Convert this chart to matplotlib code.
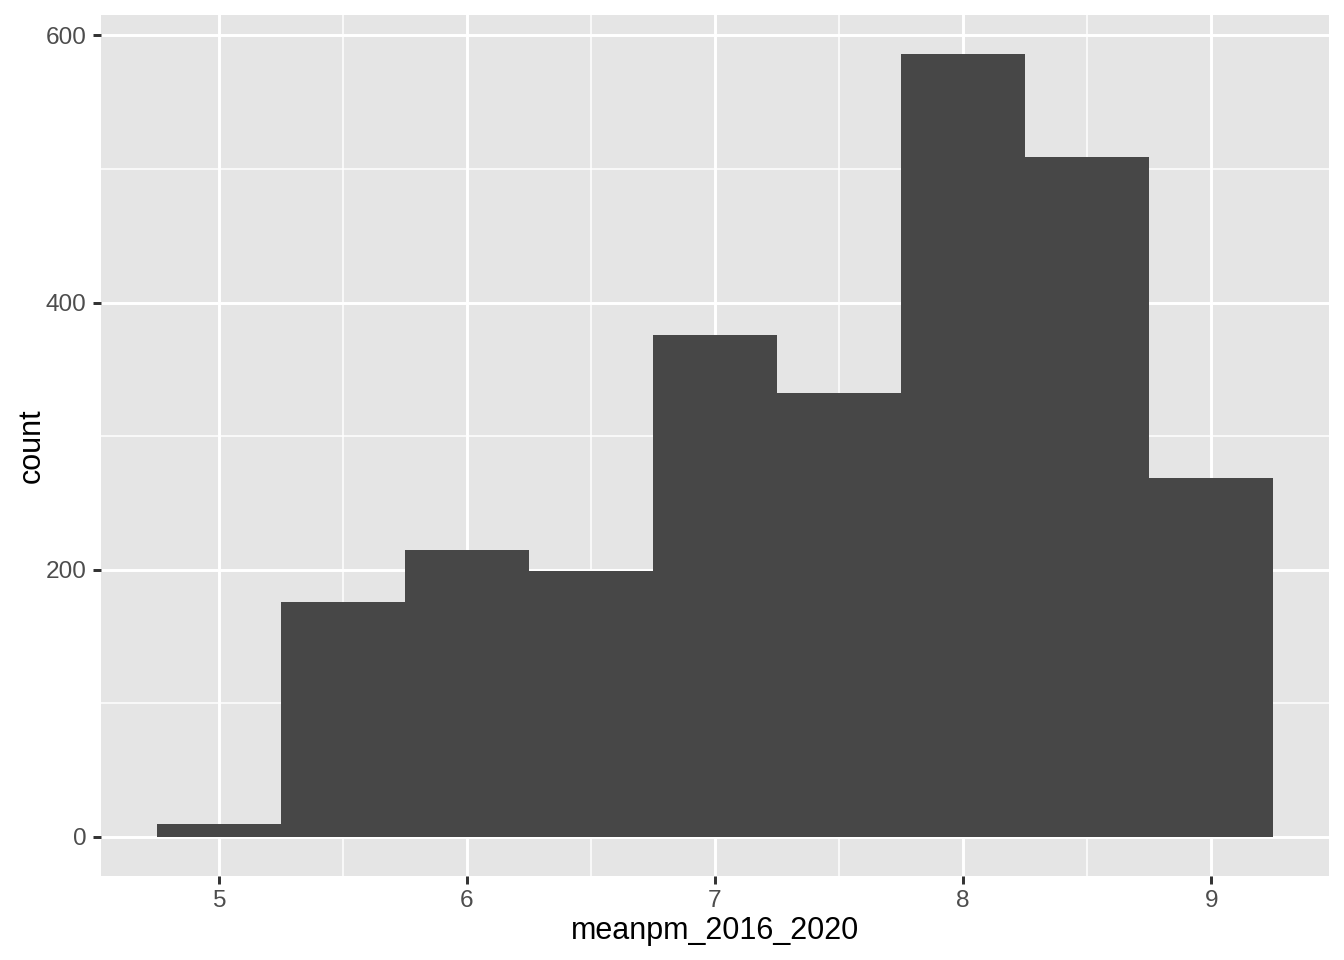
import numpy as np
import matplotlib
matplotlib.use("Agg")
import matplotlib.pyplot as plt

# histogram bins (width 0.5)
bin_left = [4.75, 5.25, 5.75, 6.25, 6.75, 7.25, 7.75, 8.25, 8.75]
counts = [10, 176, 215, 199, 376, 332, 586, 509, 269]
bin_width = 0.5

x_ticks = [5, 6, 7, 8, 9]
y_ticks = [0, 200, 400, 600]

plt.rcParams['font.family'] = ['Liberation Sans', 'DejaVu Sans']

fig = plt.figure(figsize=(6.72, 4.8), dpi=200)
ax = fig.add_axes([101/1344, 1-876/960, (1329-101)/1344, (876-15)/960])
ax.set_facecolor('#E5E5E5')

# grid lines like ggplot theme_gray
for v in [5.5, 6.5, 7.5, 8.5]:
    ax.axvline(v, color='white', lw=0.55, zorder=1)
for v in [100, 300, 500]:
    ax.axhline(v, color='white', lw=0.55, zorder=1)
for v in x_ticks:
    ax.axvline(v, color='white', lw=1.07, zorder=1)
for v in y_ticks:
    ax.axhline(v, color='white', lw=1.07, zorder=1)

ax.bar(bin_left, counts, width=bin_width, align='edge', color='#474747', zorder=2)

lo, hi = bin_left[0], bin_left[-1] + bin_width
pad = (hi - lo) * 0.05
ax.set_xlim(lo - pad, hi + pad)
ymax = max(counts)
ax.set_ylim(-ymax * 0.05, ymax * 1.05)

ax.set_xticks(x_ticks)
ax.set_yticks(y_ticks)
ax.tick_params(axis='both', length=2.75, width=1.07, color='#333333',
               labelcolor='#4D4D4D', labelsize=8.8, pad=2.4)
for s in ax.spines.values():
    s.set_visible(False)

ax.set_xlabel('meanpm_2016_2020', fontsize=11, color='black', labelpad=1.5)
ax.set_ylabel('count', fontsize=11, color='black', labelpad=-0.5)

fig.savefig('out.png', dpi=200)
